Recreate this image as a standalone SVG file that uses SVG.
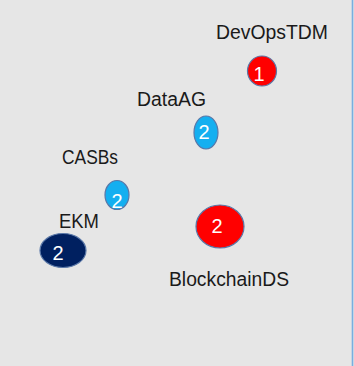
<svg xmlns="http://www.w3.org/2000/svg" width="354" height="366" viewBox="0 0 354 366">
  <style>
    .label { font-family: "Liberation Sans", Arial, sans-serif; font-size: 19.5px; fill: #1a1a1a; text-anchor: middle; }
    .num { font-family: "Liberation Sans", Arial, sans-serif; font-size: 20px; fill: #ffffff; text-anchor: middle; }
    .bubble { stroke: #5a78a8; stroke-width: 1.2; }
    .red { fill: #ff0000; }
    .sky { fill: #14aff0; }
    .navy { fill: #002060; }
  </style>
  <rect x="0" y="0" width="354" height="366" fill="#e6e6e6"/>
  <line x1="352.5" y1="0" x2="352.5" y2="366" stroke="#78aee0" stroke-width="1.6"/>

  <g id="connectors"></g>

  <g id="devopstdm">
    <text class="label" x="272" y="39" textLength="112" lengthAdjust="spacingAndGlyphs">DevOpsTDM</text>
    <ellipse class="bubble red" cx="262" cy="71" rx="14.5" ry="15"/>
    <text class="num" x="259" y="81">1</text>
  </g>

  <g id="dataag">
    <text class="label" x="171.5" y="106" textLength="69" lengthAdjust="spacingAndGlyphs">DataAG</text>
    <ellipse class="bubble sky" cx="206" cy="132.5" rx="12" ry="16.5"/>
    <text class="num" x="204" y="139">2</text>
  </g>

  <g id="casbs">
    <text class="label" x="90" y="164" textLength="56" lengthAdjust="spacingAndGlyphs">CASBs</text>
    <ellipse class="bubble sky" cx="117" cy="195" rx="12" ry="14.5"/>
    <text class="num" x="117" y="208">2</text>
  </g>

  <g id="ekm">
    <text class="label" x="79" y="228" textLength="40" lengthAdjust="spacingAndGlyphs">EKM</text>
    <ellipse class="bubble navy" cx="63" cy="250.5" rx="23" ry="17"/>
    <text class="num" x="58" y="260">2</text>
  </g>

  <g id="blockchainds">
    <ellipse class="bubble red" cx="220" cy="226.5" rx="24" ry="21.5"/>
    <text class="num" x="217" y="233">2</text>
    <text class="label" x="229" y="286" textLength="120" lengthAdjust="spacingAndGlyphs">BlockchainDS</text>
  </g>
</svg>
